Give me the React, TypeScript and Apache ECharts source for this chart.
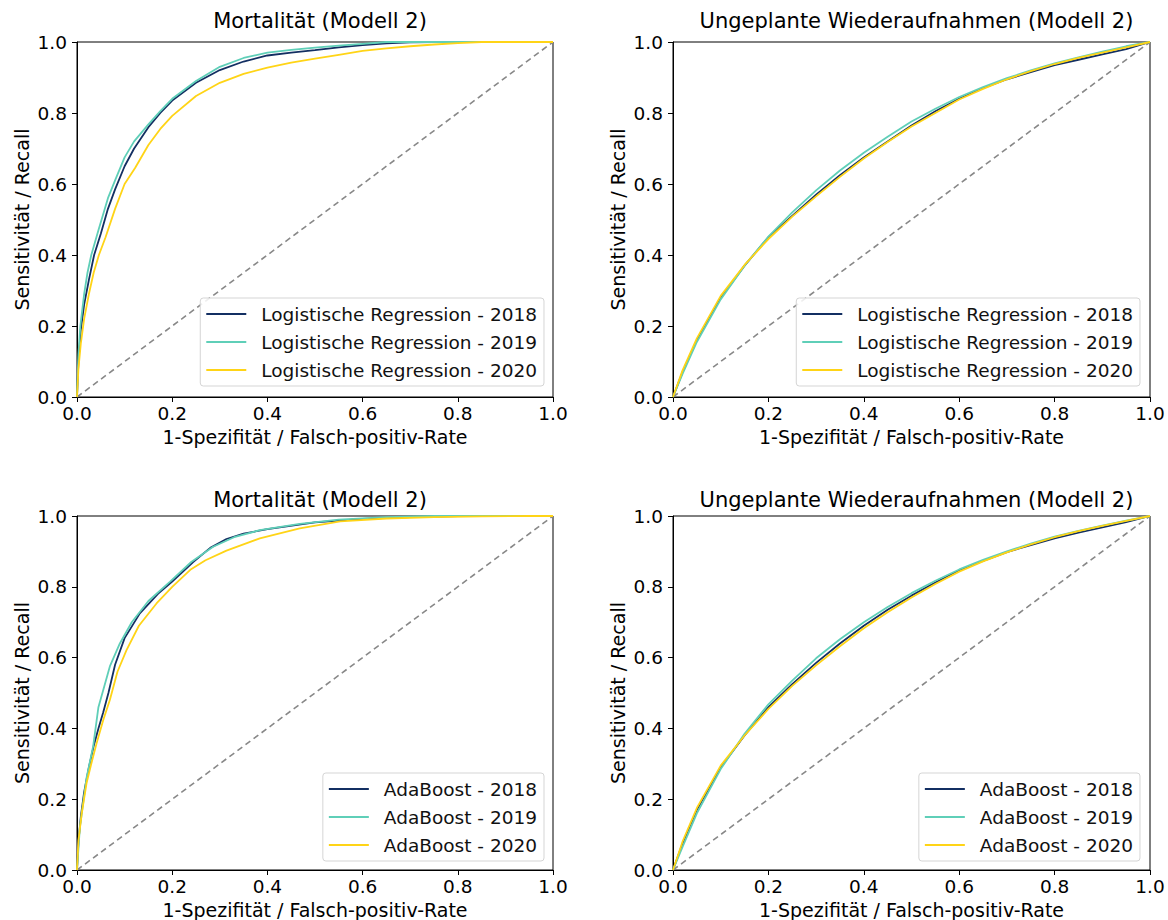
import React, { useEffect, useRef } from "react";
import * as echarts from "echarts";

// ---------- data ----------
const TITLES = [
  "Mortalität (Modell 2)",
  "Ungeplante Wiederaufnahmen (Modell 2)",
  "Mortalität (Modell 2)",
  "Ungeplante Wiederaufnahmen (Modell 2)",
];
const YEARS = ["2018", "2019", "2020"];
const MODELS = ["Logistische Regression", "Logistische Regression", "AdaBoost", "AdaBoost"];
const X_LABEL = "1-Spezifität / Falsch-positiv-Rate";
const Y_LABEL = "Sensitivität / Recall";

// Mortalität – Logistische Regression
const mortLR2018Fpr = [0, 0.003, 0.008, 0.015, 0.025, 0.036, 0.05, 0.065, 0.08, 0.1, 0.12, 0.15, 0.175, 0.2, 0.25, 0.3, 0.35, 0.4, 0.45, 0.5, 0.55, 0.6, 0.65, 0.7, 0.75, 1];
const mortLR2018Tpr = [0, 0.1, 0.19, 0.26, 0.33, 0.4, 0.46, 0.53, 0.585, 0.65, 0.7, 0.76, 0.8, 0.835, 0.885, 0.921, 0.945, 0.962, 0.97, 0.977, 0.985, 0.991, 0.996, 0.999, 1, 1];
const mortLR2019Fpr = [0, 0.003, 0.007, 0.015, 0.022, 0.03, 0.045, 0.065, 0.08, 0.1, 0.12, 0.15, 0.175, 0.2, 0.25, 0.3, 0.35, 0.4, 0.45, 0.5, 0.55, 0.6, 0.65, 1];
const mortLR2019Tpr = [0, 0.12, 0.2, 0.29, 0.35, 0.4, 0.47, 0.56, 0.61, 0.675, 0.72, 0.768, 0.805, 0.84, 0.89, 0.93, 0.955, 0.97, 0.978, 0.984, 0.99, 0.995, 1, 1];
const mortLR2020Fpr = [0, 0.003, 0.008, 0.015, 0.025, 0.035, 0.046, 0.06, 0.08, 0.1, 0.122, 0.15, 0.175, 0.2, 0.25, 0.3, 0.35, 0.4, 0.45, 0.5, 0.55, 0.6, 0.65, 0.7, 0.75, 0.8, 0.85, 1];
const mortLR2020Tpr = [0, 0.08, 0.15, 0.22, 0.29, 0.35, 0.4, 0.45, 0.53, 0.6, 0.645, 0.71, 0.755, 0.792, 0.848, 0.885, 0.91, 0.928, 0.942, 0.953, 0.964, 0.975, 0.982, 0.988, 0.993, 0.997, 1, 1];

// Wiederaufnahmen – Logistische Regression
const readFpr = [0, 0.02, 0.05, 0.1, 0.15, 0.2, 0.25, 0.3, 0.35, 0.4, 0.45, 0.5, 0.55, 0.6, 0.65, 0.7, 0.75, 0.8, 0.85, 0.9, 0.95, 1];
const readLR2018Tpr = [0, 0.07, 0.16, 0.28, 0.37, 0.45, 0.51, 0.57, 0.625, 0.675, 0.72, 0.765, 0.805, 0.84, 0.87, 0.895, 0.915, 0.935, 0.95, 0.965, 0.98, 1];
const readLR2019Tpr = [0, 0.065, 0.155, 0.275, 0.37, 0.452, 0.52, 0.582, 0.638, 0.688, 0.733, 0.776, 0.812, 0.845, 0.873, 0.898, 0.92, 0.94, 0.957, 0.973, 0.988, 1];
const readLR2020Tpr = [0, 0.075, 0.165, 0.285, 0.372, 0.445, 0.508, 0.565, 0.62, 0.672, 0.718, 0.762, 0.8, 0.838, 0.868, 0.895, 0.918, 0.938, 0.955, 0.97, 0.985, 1];

// Mortalität – AdaBoost
const mortAB2018Fpr = [0, 0.003, 0.008, 0.015, 0.025, 0.035, 0.045, 0.055, 0.066, 0.08, 0.1, 0.132, 0.17, 0.2, 0.244, 0.28, 0.314, 0.35, 0.4, 0.5, 0.6, 0.7, 0.8, 1];
const mortAB2018Tpr = [0, 0.08, 0.15, 0.22, 0.29, 0.35, 0.4, 0.445, 0.5, 0.58, 0.655, 0.725, 0.78, 0.815, 0.87, 0.91, 0.935, 0.95, 0.963, 0.982, 0.992, 0.997, 1, 1];
const mortAB2019Fpr = [0, 0.006, 0.02, 0.034, 0.045, 0.069, 0.09, 0.115, 0.15, 0.195, 0.24, 0.286, 0.33, 0.384, 0.468, 0.55, 0.65, 0.75, 1];
const mortAB2019Tpr = [0, 0.12, 0.26, 0.35, 0.46, 0.575, 0.64, 0.7, 0.76, 0.814, 0.87, 0.913, 0.94, 0.96, 0.978, 0.99, 0.997, 1, 1];
const mortAB2020Fpr = [0, 0.003, 0.01, 0.02, 0.03, 0.041, 0.055, 0.069, 0.085, 0.104, 0.13, 0.167, 0.2, 0.238, 0.27, 0.314, 0.384, 0.468, 0.553, 0.65, 0.75, 0.85, 0.95, 1];
const mortAB2020Tpr = [0, 0.083, 0.16, 0.245, 0.3, 0.357, 0.423, 0.48, 0.56, 0.621, 0.69, 0.753, 0.8, 0.848, 0.875, 0.902, 0.937, 0.965, 0.985, 0.993, 0.997, 0.999, 1, 1];

// Wiederaufnahmen – AdaBoost
const readAB2018Tpr = [0, 0.075, 0.17, 0.29, 0.38, 0.46, 0.525, 0.585, 0.64, 0.69, 0.735, 0.775, 0.812, 0.846, 0.873, 0.898, 0.918, 0.937, 0.953, 0.968, 0.983, 1];
const readAB2019Tpr = [0, 0.065, 0.16, 0.285, 0.385, 0.468, 0.535, 0.598, 0.652, 0.7, 0.743, 0.782, 0.817, 0.849, 0.876, 0.9, 0.922, 0.942, 0.958, 0.973, 0.987, 1];
const readAB2020Tpr = [0, 0.08, 0.175, 0.295, 0.38, 0.455, 0.52, 0.578, 0.632, 0.683, 0.728, 0.77, 0.808, 0.843, 0.872, 0.897, 0.92, 0.94, 0.957, 0.972, 0.986, 1];

const CURVES: [number[], number[]][][] = [
  [[mortLR2018Fpr, mortLR2018Tpr], [mortLR2019Fpr, mortLR2019Tpr], [mortLR2020Fpr, mortLR2020Tpr]],
  [[readFpr, readLR2018Tpr], [readFpr, readLR2019Tpr], [readFpr, readLR2020Tpr]],
  [[mortAB2018Fpr, mortAB2018Tpr], [mortAB2019Fpr, mortAB2019Tpr], [mortAB2020Fpr, mortAB2020Tpr]],
  [[readFpr, readAB2018Tpr], [readFpr, readAB2019Tpr], [readFpr, readAB2020Tpr]],
];
const DIAGONAL = [0, 1];

// ---------- layout / style ----------
const COLORS = ["#132f62", "#5fcfb8", "#ffd416"];
const FONT = "DejaVu Sans";
const GRIDS = [
  { left: 77, top: 42, width: 476, height: 355 },
  { left: 673, top: 42, width: 477, height: 355 },
  { left: 77, top: 516, width: 476, height: 354 },
  { left: 673, top: 516, width: 477, height: 354 },
];
const TITLE_TOP = [5, 5, 484, 484];
const LEGEND_POS = [
  { right: 624, top: 298 },
  { right: 28, top: 298 },
  { right: 624, top: 773 },
  { right: 28, top: 773 },
];

export default function App() {
  const ref = useRef<HTMLDivElement>(null);
  useEffect(() => {
    document.body.style.margin = "0";
    if (!ref.current) return;
    const chart = echarts.init(ref.current, null, { renderer: "svg" });

    const xAxis: any[] = [];
    const yAxis: any[] = [];
    const series: any[] = [];
    const legend: any[] = [];
    const title: any[] = [];

    GRIDS.forEach((g, p) => {
      title.push({
        text: TITLES[p],
        left: g.left + g.width / 2,
        top: TITLE_TOP[p],
        textAlign: "center",
        textStyle: { fontFamily: FONT, fontSize: 21, fontWeight: "normal", color: "#000" },
      });
      const axisCommon = {
        type: "value",
        min: 0,
        max: 1,
        interval: 0.2,
        gridIndex: p,
        splitLine: { show: false },
        axisLine: { show: true, onZero: false, lineStyle: { color: "#000", width: 1 } },
        axisTick: { show: true, inside: false, length: 5, lineStyle: { color: "#000" } },
        nameLocation: "middle",
        nameTextStyle: { fontFamily: FONT, fontSize: 19, color: "#000" },
      };
      xAxis.push({
        ...axisCommon,
        name: X_LABEL,
        nameGap: 30,
        axisLabel: { margin: 7, fontFamily: FONT, fontSize: 18.5, color: "#000", formatter: (v: number) => v.toFixed(1) },
      });
      yAxis.push({
        ...axisCommon,
        name: Y_LABEL,
        nameGap: 46,
        axisLabel: { margin: 10, fontFamily: FONT, fontSize: 18.5, color: "#000", formatter: (v: number) => v.toFixed(1) },
      });
      series.push({
        type: "line",
        name: "diag" + p,
        xAxisIndex: p,
        yAxisIndex: p,
        data: DIAGONAL.map((v) => [v, v]),
        symbol: "none",
        silent: true,
        lineStyle: { color: "#888888", width: 1.6, type: [6, 4] },
        z: 1,
      });
      const names: string[] = [];
      CURVES[p].forEach(([fpr, tpr], k) => {
        const name = `${MODELS[p]} - ${YEARS[k]}`;
        names.push(name);
        series.push({
          type: "line",
          name,
          xAxisIndex: p,
          yAxisIndex: p,
          data: fpr.map((x, i) => [x, tpr[i]]),
          symbol: "none",
          color: COLORS[k],
          lineStyle: { color: COLORS[k], width: 1.8 },
          z: 2 + k,
        });
      });
      legend.push({
        data: names,
        ...LEGEND_POS[p],
        orient: "vertical",
        icon: "rect",
        itemWidth: 40,
        itemHeight: 2,
        itemGap: 8,
        padding: [6, 7, 6, 6],
        backgroundColor: "rgba(255,255,255,0.85)",
        borderColor: "#d5d5d5",
        borderWidth: 1,
        borderRadius: 3,
        selectedMode: false,
        textStyle: { fontFamily: FONT, fontSize: 18.5, color: "#111", lineHeight: 20, padding: [0, 0, 0, 10] },
      });
    });

    chart.setOption({
      animation: false,
      backgroundColor: "#fff",
      title,
      grid: GRIDS.map((g) => ({ ...g, show: true, borderColor: "#000", borderWidth: 1, backgroundColor: "transparent" })),
      xAxis,
      yAxis,
      legend,
      series,
    });
    return () => chart.dispose();
  }, []);
  return <div ref={ref} style={{ width: 1168, height: 920 }} />;
}
